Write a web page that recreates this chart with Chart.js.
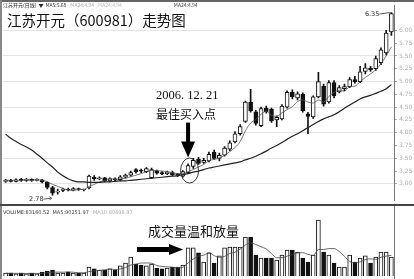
<!DOCTYPE html>
<html><head><meta charset="utf-8">
<script src="https://cdn.jsdelivr.net/npm/chart.js@4.4.0/dist/chart.umd.min.js"></script>
<style>
html,body{margin:0;padding:0;background:#fff;}
#wrap{position:relative;width:414px;height:279px;overflow:hidden;background:#fff;}
#c1{position:absolute;left:0;top:0;}
#c2{position:absolute;left:0;top:206px;}
</style></head><body>
<div id="wrap"><canvas id="c1" width="414" height="206"></canvas><canvas id="c2" width="414" height="73"></canvas></div>
<script>
// ---- data ----
const opens = [3.05,3.07,3.05,3.08,3.07,3.09,3.07,3.08,3.03,2.93,
  2.84,2.87,2.90,2.88,2.90,2.88,2.92,3.13,3.10,3.12,
  3.06,3.10,3.08,3.13,3.17,3.28,3.26,3.24,3.12,3.25,
  3.22,3.20,3.22,3.18,3.15,3.22,3.34,3.48,3.42,3.45,
  3.62,3.50,3.56,3.68,3.82,3.98,4.22,4.60,4.41,4.14,
  4.48,4.46,4.25,4.27,4.50,4.79,4.68,4.75,4.37,4.31,
  4.70,4.91,4.60,4.98,4.80,4.86,4.90,5.04,5.00,5.20,
  5.26,5.25,5.37,5.56,5.97];
const highs = [3.09,3.09,3.10,3.11,3.11,3.10,3.10,3.09,3.04,2.95,
  2.90,2.92,2.92,2.93,2.92,2.90,3.17,3.16,3.14,3.13,
  3.12,3.12,3.16,3.19,3.25,3.30,3.29,3.32,3.31,3.27,
  3.24,3.25,3.25,3.20,3.26,3.39,3.50,3.52,3.50,3.62,
  3.66,3.60,3.73,3.84,4.02,4.16,4.62,4.85,4.44,4.50,
  4.52,4.48,4.33,4.55,4.82,4.84,4.80,4.78,4.40,4.72,
  5.18,4.95,5.02,5.02,4.92,4.95,5.08,5.10,5.30,5.35,
  5.30,5.50,5.66,6.00,6.35];
const lows = [3.03,3.04,3.04,3.05,3.05,3.05,3.06,3.02,2.90,2.78,
  2.80,2.85,2.86,2.86,2.87,2.86,2.90,3.07,3.08,3.04,
  3.04,3.06,3.06,3.11,3.15,3.21,3.22,3.22,3.10,3.19,
  3.18,3.18,3.16,3.14,3.13,3.20,3.30,3.38,3.40,3.43,
  3.48,3.45,3.54,3.65,3.80,3.95,4.20,4.40,4.15,4.12,
  4.38,4.20,4.12,4.25,4.48,4.66,4.64,4.40,3.98,4.28,
  4.68,4.52,4.58,4.68,4.78,4.82,4.88,4.97,4.98,5.15,
  5.20,5.22,5.33,5.52,5.90];
const closes = [3.07,3.05,3.08,3.07,3.09,3.07,3.08,3.04,2.93,2.82,
  2.86,2.90,2.88,2.91,2.89,2.88,3.15,3.10,3.12,3.06,
  3.10,3.08,3.14,3.17,3.22,3.24,3.25,3.30,3.28,3.21,
  3.20,3.23,3.18,3.17,3.24,3.36,3.46,3.40,3.46,3.58,
  3.50,3.56,3.70,3.80,3.98,4.12,4.60,4.43,4.18,4.47,
  4.41,4.23,4.30,4.52,4.79,4.70,4.76,4.43,4.32,4.70,
  5.00,4.56,4.98,4.72,4.88,4.90,5.04,5.00,5.19,5.27,
  5.23,5.45,5.62,5.95,6.33];
const ma5 = [3.07,3.07,3.07,3.07,3.07,3.07,3.08,3.07,3.04,2.99,
  2.95,2.91,2.88,2.87,2.89,2.89,2.95,2.99,3.04,3.06,
  3.11,3.09,3.10,3.11,3.14,3.17,3.20,3.24,3.26,3.26,
  3.25,3.24,3.22,3.20,3.20,3.24,3.28,3.33,3.38,3.45,
  3.48,3.50,3.56,3.63,3.71,3.83,4.04,4.19,4.26,4.36,
  4.42,4.34,4.32,4.39,4.45,4.51,4.61,4.64,4.60,4.58,
  4.64,4.60,4.71,4.79,4.83,4.81,4.90,4.91,5.00,5.08,
  5.15,5.23,5.35,5.50,5.68];
const ma24 = [3.97,3.89,3.83,3.77,3.72,3.66,3.58,3.50,3.41,3.33,
  3.23,3.16,3.10,3.06,3.04,3.04,3.03,3.03,3.03,3.04,
  3.04,3.05,3.06,3.06,3.07,3.08,3.09,3.10,3.11,3.12,
  3.13,3.14,3.15,3.16,3.18,3.20,3.23,3.25,3.28,3.31,
  3.33,3.35,3.37,3.39,3.41,3.43,3.47,3.50,3.54,3.59,
  3.64,3.70,3.75,3.81,3.87,3.93,3.98,4.04,4.10,4.16,
  4.22,4.27,4.31,4.35,4.41,4.48,4.54,4.60,4.66,4.70,
  4.73,4.77,4.81,4.86,4.94];
const volumes = [13000,13000,9000,13000,9000,13000,9000,17500,22000,26000,
  13000,13000,17500,13000,13000,13000,39000,31000,26000,26000,
  31000,26000,44000,57000,83000,52000,48000,44000,52000,35000,
  31000,35000,39000,39000,48000,123000,123000,101000,61000,101000,
  57000,88000,123000,127000,127000,127000,171000,171000,92000,79000,
  79000,79000,70000,92000,114000,114000,105000,79000,61000,92000,
  245000,105000,92000,57000,39000,39000,92000,61000,79000,88000,
  57000,83000,105000,105000,83160];
const volMa5 = [12000,12000,11500,11500,11000,11500,11000,12000,14000,17000,
  17000,16500,18000,16500,14000,14000,19500,22500,24500,27000,
  31000,28000,31000,37000,48000,52000,57000,57000,56000,46000,
  42000,40000,38500,36000,38500,57000,74000,87000,91000,102000,
  89000,82000,86000,99000,104000,118000,136000,145000,138000,128000,
  118000,98000,80000,80000,87000,94000,101000,102000,95000,90000,
  116000,116000,120000,120000,107000,86000,64000,58000,62000,72000,
  75000,73000,82000,87000,90252];
const priceTicks = ['3.00','3.25','3.50','3.75','4.00','4.25','4.50','4.75','5.00','5.25','5.50','5.75','6.00'];
const days = opens.map((_, i) => 'D' + (i + 1));
const buyIndex = 35;
const titleText = '江苏开元（600981）走势图';
const buyDate = '2006. 12. 21';
const buyNote = '最佳买入点';
const volNote = '成交量温和放量';
const headerParts = [['江苏开元(日线)', '#222'], ['▼', '#222'], ['MA5:5.68', '#333'], ['MA24:4.94', '#aaa'], ['MA24:4.94', '#bbb'], ['MA24:4.94', '#444']];
const volHeader = [['VOLUME:83160.52', '#333'], ['MA5:90251.97', '#444'], ['MA10:80498.97', '#aaa']];

const isUp = i => closes[i] >= opens[i];
const INK = '#111';

function drawRow(ctx, parts, x0, yMid, font, gaps) {
  ctx.font = font;
  let xx = x0;
  parts.forEach((p, k) => {
    ctx.fillStyle = p[1];
    ctx.fillText(p[0], xx, yMid);
    xx += ctx.measureText(p[0]).width + (gaps[k] || 3);
  });
}

const pricePlugin = {
  id: 'priceDeco',
  afterDraw(chart) {
    const {ctx, chartArea: a, scales: {x, y}} = chart;
    ctx.save();
    // frame
    ctx.fillStyle = '#666'; ctx.fillRect(0, 0, 414, 2);
    ctx.fillStyle = '#888'; ctx.fillRect(0, 0, 2, 206);
    ctx.fillStyle = '#444'; ctx.fillRect(0, 204, 414, 2);
    // header
    ctx.textBaseline = 'middle';
    drawRow(ctx, headerParts, 3, 5.5, '5px "Noto Sans CJK SC", sans-serif', [2, 2, 4, 4, 52, 3]);
    // title
    ctx.fillStyle = '#111';
    ctx.font = '14.5px "Noto Sans CJK SC", sans-serif';
    ctx.fillText(titleText, 7, 20);
    // high label
    let iMax = 0, iMin = 0;
    highs.forEach((v, i) => { if (v > highs[iMax]) iMax = i; });
    lows.forEach((v, i) => { if (v < lows[iMin]) iMin = i; });
    const hxp = x.getPixelForValue(iMax), hyp = y.getPixelForValue(highs[iMax]);
    ctx.strokeStyle = '#333'; ctx.lineWidth = 0.8;
    ctx.beginPath(); ctx.moveTo(hxp - 12, hyp + 1.5); ctx.lineTo(hxp - 1, hyp); ctx.stroke();
    ctx.font = '6.5px "DejaVu Sans", sans-serif'; ctx.fillStyle = '#333'; ctx.textAlign = 'right';
    ctx.fillText(highs[iMax].toFixed(2), hxp - 12, hyp + 2);
    // low label
    const lxp = x.getPixelForValue(iMin), lyp = y.getPixelForValue(lows[iMin]);
    ctx.fillText(lows[iMin].toFixed(2), lxp - 9, lyp + 4);
    ctx.beginPath(); ctx.moveTo(lxp - 9, lyp + 4); ctx.lineTo(lxp - 1, lyp + 3); ctx.stroke();
    ctx.beginPath(); ctx.moveTo(lxp - 3, lyp + 1.5); ctx.lineTo(lxp - 1, lyp + 3); ctx.lineTo(lxp - 3, lyp + 5); ctx.stroke();
    ctx.textAlign = 'left';
    // buy point annotation
    const ax = x.getPixelForValue(buyIndex);
    const ey = y.getPixelForValue((highs[buyIndex] + lows[buyIndex - 1]) / 2);
    ctx.strokeStyle = '#222'; ctx.lineWidth = 0.9;
    ctx.beginPath(); ctx.ellipse(ax + 1.5, ey, 9, 12.5, 0, 0, Math.PI * 2); ctx.stroke();
    const tip = ey - 13;
    ctx.fillStyle = '#000';
    ctx.fillRect(ax - 2, tip - 35, 4, 22);
    ctx.beginPath(); ctx.moveTo(ax - 7, tip - 16); ctx.lineTo(ax + 7, tip - 16); ctx.lineTo(ax, tip); ctx.closePath(); ctx.fill();
    ctx.font = '12.5px "Liberation Serif", "Noto Sans CJK SC", serif';
    ctx.fillStyle = '#111';
    ctx.fillText(buyDate, ax - 32, tip - 62);
    ctx.font = '12px "Noto Sans CJK SC", serif';
    ctx.fillText(buyNote, ax - 32, tip - 43);
    ctx.restore();
  }
};

const volPlugin = {
  id: 'volDeco',
  afterDraw(chart) {
    const {ctx, chartArea: a, scales: {x}} = chart;
    ctx.save();
    ctx.fillStyle = '#888'; ctx.fillRect(0, 0, 2, 73);
    ctx.fillStyle = '#777'; ctx.fillRect(a.right, 0, 1, 73);
    ctx.textBaseline = 'middle';
    drawRow(ctx, volHeader, 3, 7, '5px "DejaVu Sans", sans-serif', [3, 4, 3]);
    ctx.fillStyle = '#111';
    ctx.font = '13px "Noto Sans CJK SC", serif';
    ctx.fillText(volNote, 148, 25);
    // arrow
    ctx.fillStyle = '#000';
    ctx.fillRect(137, 41, 34, 5);
    ctx.beginPath(); ctx.moveTo(169, 38); ctx.lineTo(183, 43.5); ctx.lineTo(169, 49); ctx.closePath(); ctx.fill();
    ctx.restore();
  }
};

Chart.defaults.font.family = '"DejaVu Sans", sans-serif';

new Chart(document.getElementById('c1'), {
  type: 'bar',
  data: {
    labels: days,
    datasets: [
      { type: 'line', data: ma24, borderColor: '#222', borderWidth: 1.2, pointRadius: 0, cubicInterpolationMode: 'monotone', order: 0 },
      { type: 'line', data: ma5, borderColor: '#555', borderWidth: 0.8, pointRadius: 0, cubicInterpolationMode: 'monotone', order: 0 },
      { data: opens.map((o, i) => [o, closes[i]]), backgroundColor: opens.map((_, i) => isUp(i) ? '#fff' : INK),
        borderColor: INK, borderWidth: 1, borderSkipped: false, barThickness: 4, grouped: false, minBarLength: 1, order: 1 },
      { data: lows.map((l, i) => [l, highs[i]]), backgroundColor: INK, borderWidth: 0, barThickness: 1, grouped: false, order: 2 }
    ]
  },
  options: {
    responsive: false, animation: false, events: [],
    layout: { padding: { left: 3, right: 0, top: 5, bottom: 1 } },
    plugins: { legend: { display: false }, tooltip: { enabled: false } },
    scales: {
      x: { display: false, offset: true },
      y: {
        position: 'right', min: 2.677, max: 6.485,
        afterBuildTicks: s => { s.ticks = priceTicks.map(t => ({ value: parseFloat(t) })); },
        afterFit: s => { s.width = 20; },
        ticks: { font: { size: 6 }, color: '#b0b0b0', padding: 2, callback: v => Number(v).toFixed(2) },
        grid: {
          color: c => (c.tick && Math.abs(c.tick.value * 2 - Math.round(c.tick.value * 2)) < 1e-6) ? '#e4e4e4' : 'rgba(0,0,0,0)',
          tickColor: '#aaa', tickLength: 3, lineWidth: 1
        },
        border: { display: true, color: '#777', width: 1 }
      }
    }
  },
  plugins: [pricePlugin]
});

new Chart(document.getElementById('c2'), {
  type: 'bar',
  data: {
    labels: days,
    datasets: [
      { type: 'line', data: volMa5, borderColor: '#444', borderWidth: 0.8, pointRadius: 0, cubicInterpolationMode: 'monotone', order: 0 },
      { data: volumes, backgroundColor: volumes.map((_, i) => isUp(i) ? '#fff' : INK), borderColor: INK, borderWidth: 1,
        borderSkipped: 'bottom', barThickness: 4, order: 1 }
    ]
  },
  options: {
    responsive: false, animation: false, events: [],
    layout: { padding: { left: 3, right: 0, top: 10, bottom: 3 } },
    plugins: { legend: { display: false }, tooltip: { enabled: false } },
    scales: {
      x: { display: false, offset: true },
      y: { position: 'right', min: 0, max: 262800, afterFit: s => { s.width = 20; },
        ticks: { display: false }, grid: { display: false }, border: { display: false } }
    }
  },
  plugins: [volPlugin]
});
</script>
</body></html>
